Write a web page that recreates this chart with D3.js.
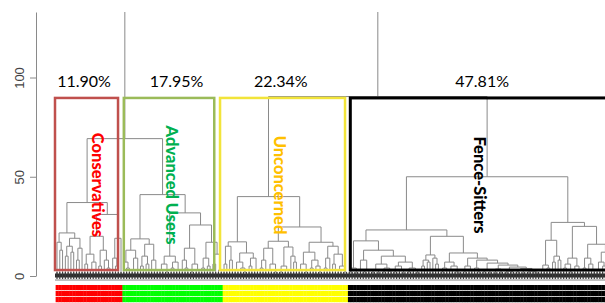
<!DOCTYPE html>
<html>
<head>
<meta charset="utf-8">
<script src="https://cdn.jsdelivr.net/npm/d3@7"></script>
<style>
html, body { margin: 0; padding: 0; background: #fff; }
svg { display: block; }
</style>
</head>
<body>
<svg id="chart" width="605" height="303"></svg>
<script>
// each subtree is [mergeHeight, left, right]; a leaf is 0
const conservatives = [37,
  [21.7,
    [17, 0, [13, 0, 0]],
    [19, [15, [10, 0, 0], [12, 0, 0]], [14, [8, 0, 0], 0]]],
  [31,
    [20, [11, [6, 0, 0], [7, [3, 0, 0], 0]], [13, [5, 0, 0], [8, 0, [4, 0, 0]]]],
    [19, [9, 0, [5, 0, 0]], 0]]]

const advancedUsers = [41,
  [18.7,
    [13, [7, 0, [4, 0, 0]], [9, [3, 0, 0], 0]],
    [16, [10, [5, 0, 0], [6, 0, 0]], [8, 0, [3, 0, 0]]]],
  [31.8,
    [10, [6, [3, 0, 0], [2, 0, 0]], [7, [4, 0, 0], [3, 0, 0]]],
    [25.7,
      [14, [8, 0, [4, 0, 0]], [6, [2, 0, 0], [3, 0, 0]]],
      [17, [9, [4, 0, 0], [5, 0, 0]], [11, [6, 0, 0], [3, 0, 0]]]]]]

const unconcerned = [40,
  [17.2,
    [15, [6, 0, 0], [8, 0, 0]],
    [11.6, [7, [3, 0, 0], [4, 0, [2, 0, 0]]], [9, [5, 0, 0], [3, 0, 0]]]],
  [24.7,
    [17.5,
      [14, [8, [4, 0, 0], 0], [6, [3, 0, 0], [2, 0, 0]]],
      [14.6, [5, [2, 0, 0], [3, 0, 0]], [10, 0, [7, 0, 0]]]],
    [17,
      [12, [6, [3, 0, 0], [2, 0, 0]], [8, [4, 0, 0], [5, 0, [2, 0, 0]]]],
      [15, [9, [4, 0, 0], 0], [11, [6, 0, 0], [5, [3, 0, 0], [2, 0, 0]]]]]]]

const fenceSitters = [50,
  [23.2,
    [17.7,
      [4, [2, 0, 0], [1.5, 0, 0]],
      [13,
        [8, 0, [3, [2, 0, 0], 0]],
        [10,
          [6, [3, [1.5, 0, 0], [1, 0, 0]], [4, [2, 0, 0], [2.5, 0, 0]]],
          [7, [5, [2, 0, 0], [3, 0, [1, 0, 0]]], [4, [2, 0, 0], [3, 0, [1.5, 0, 0]]]]]]],
    [20,
      [10.6, [8, [5, 0, 0], [7, 0, 0]], [9, 0, [6, 0, 0]]],
      [11.6,
        [7, [4, [2, 0, 0], 0], [5, [3, 0, 0], [2, 0, [1, 0, 0]]]],
        [9, [5, [2, 0, 0], [3, 0, 0]],
          [8, [4, 0, [2, 0, 0]],
            [6.5, [3, [2, 0, 0], [1.5, 0, 0]],
              [5.5, [3.5, [1, 0, 0], [1.5, 0, 0]],
                [4.5, [2.5, [1.5, 0, 0], [2, 0, 0]],
                  [3.8, [3, [2, 0, 0], [1, 0, 0]], [2.5, [1.5, 0, 0], [2, 0, [1, 0, 0]]]]]]]]]]]],
  [27,
    [18, [5.5, [3, 0, 0], [4, 0, 0]], [10, [7, 0, 0], [8, 0, 0]]],
    [25,
      [9, [6, [4, 0, 0], [2, 0, 0]], [5, 0, [3, 0, 0]]],
      [16, [9, [4, 0, 0], [6, 0, [3, 0, 0]]], [12, [7, [3, 0, 0], [5, 0, 0]], [4, 0, 0]]]]]]

const clusterNames = ["Conservatives", "Advanced Users", "Unconcerned", "Fence-Sitters"]
const clusterShares = ["11.90%", "17.95%", "22.34%", "47.81%"]
// heights of the merges above the four clusters: cons+adv, unc+fence, root
const upperMerges = [69.2, 90.4, 160]
const yTicks = [0, 50, 100]

const boxColours = ["#c0504d", "#9bbb59", "#f2e43a", "#000000"]
const boxWidths = [2.5, 2.5, 2.5, 3]
const boxLeft = [-2, 0, -4, 1]
const boxRight = [-3, -7, -1.5, -3]
const labelColours = ["#ff0000", "#00b050", "#ffc000", "#000000"]
const barColours = ["#ff0000", "#00ff00", "#ffff00", "#000000"]
const labelNudge = [9, -1, -5, 0]
const shareNudge = [-5, 4, -4.5, 2]

const svg = d3.select("#chart")

const trees = [conservatives, advancedUsers, unconcerned, fenceSitters]
const full = [upperMerges[2], [upperMerges[0], trees[0], trees[1]], [upperMerges[1], trees[2], trees[3]]]
const root = d3.hierarchy(full, d => Array.isArray(d) ? d.slice(1) : null)
const leaves = root.leaves()
const N = leaves.length

const x = d3.scaleLinear().domain([0, N - 1]).range([57, 611])
const y = d3.scaleLinear().domain([0, 133]).range([276, 12])
const step = x(1) - x(0)

leaves.forEach((l, i) => { l.idx = i; l.px = x(i) })
root.eachAfter(n => {
    if (n.children) n.px = (n.children[0].px + n.children[1].px) / 2
    n.py = y(Array.isArray(n.data) ? n.data[0] : 0)
})

// clusters -> leaf index ranges
const clusters = trees.map((t, i) => {
    const node = root.descendants().find(n => n.data === t)
    const ls = node.leaves()
    ls.forEach(l => l.cluster = i)
    return { i, a: ls[0].idx, b: ls[ls.length - 1].idx }
})

svg.append("defs").append("clipPath").attr("id", "plot-clip")
    .append("rect").attr("x", 0).attr("y", y(133)).attr("width", 605).attr("height", 303)

//dendrogram links
svg.append("g").attr("clip-path", "url(#plot-clip)")
    .selectAll("path")
    .data(root.descendants().filter(n => n.children))
    .enter().append("path")
    .attr("d", n => {
        const [c0, c1] = n.children
        return `M${c0.px},${c0.py}V${n.py}H${c1.px}V${c1.py}`
    })
    .attr("fill", "none")
    .attr("stroke", "#8a8a8a")
    .attr("stroke-width", 1)

//leaf labels (unreadable smudge in the original)
svg.append("line")
    .attr("x1", x(0) - 2).attr("x2", x(N - 1) + 2)
    .attr("y1", 280).attr("y2", 280)
    .attr("stroke", "#a8a8a8").attr("stroke-width", 1.5)
svg.append("rect")
    .attr("x", x(0) - 2).attr("y", 273.5)
    .attr("width", x(N - 1) - x(0) + 4).attr("height", 4)
    .attr("fill", "#2b2b2b")
svg.append("g").selectAll("line")
    .data(leaves).enter().append("line")
    .attr("x1", d => d.px).attr("x2", d => d.px)
    .attr("y1", 272).attr("y2", 279)
    .attr("stroke", "#3a3a3a").attr("stroke-width", 1.2)

//membership colour bars
const rows = [285, 291, 297]
svg.append("g").selectAll("g")
    .data(rows).enter().append("g")
    .selectAll("rect")
    .data(r => leaves.map(l => ({ r, l })))
    .enter().append("rect")
    .attr("x", d => d.l.px - step / 2)
    .attr("y", d => d.r)
    .attr("width", step + 0.4)
    .attr("height", 5.2)
    .attr("fill", d => barColours[d.l.cluster])

//cluster boxes
svg.append("g").selectAll("rect")
    .data(clusters).enter().append("rect")
    .attr("x", c => x(c.a) + boxLeft[c.i])
    .attr("y", y(89.7))
    .attr("width", c => x(c.b) + boxRight[c.i] - (x(c.a) + boxLeft[c.i]))
    .attr("height", y(3) - y(89.7))
    .attr("fill", "none")
    .attr("stroke", c => boxColours[c.i])
    .attr("stroke-width", c => boxWidths[c.i])

//shares
svg.append("g").selectAll("text")
    .data(clusters).enter().append("text")
    .attr("x", c => (x(c.a) + x(c.b)) / 2 + shareNudge[c.i])
    .attr("y", 87)
    .attr("text-anchor", "middle")
    .attr("font-family", "Lato, 'Open Sans', sans-serif")
    .attr("font-size", 16)
    .attr("fill", "#000")
    .text(c => clusterShares[c.i])

//cluster names, written downwards
svg.append("g").selectAll("text")
    .data(clusters).enter().append("text")
    .attr("transform", c => `translate(${(x(c.a) + x(c.b)) / 2 + labelNudge[c.i]},185) rotate(90)`)
    .attr("text-anchor", "middle")
    .attr("dominant-baseline", "central")
    .attr("font-family", "Lato, 'Open Sans', sans-serif")
    .attr("font-weight", 900)
    .attr("font-size", 16.5)
    .attr("fill", c => labelColours[c.i])
    .text(c => clusterNames[c.i])

//y axis
const axis = svg.append("g")
    .attr("transform", "translate(36,0)")
    .call(d3.axisLeft(y).tickValues(yTicks).tickSize(6).tickSizeOuter(0))
axis.select(".domain").attr("stroke", "#8a8a8a")
axis.selectAll(".tick line").attr("stroke", "#8a8a8a")
axis.selectAll(".tick text")
    .attr("x", null).attr("dy", null)
    .attr("transform", "translate(-12,0) rotate(-90)")
    .attr("text-anchor", "middle")
    .attr("font-family", "'Liberation Sans', Arial, sans-serif")
    .attr("font-size", 13)
    .attr("fill", "#444")
</script>
</body>
</html>
